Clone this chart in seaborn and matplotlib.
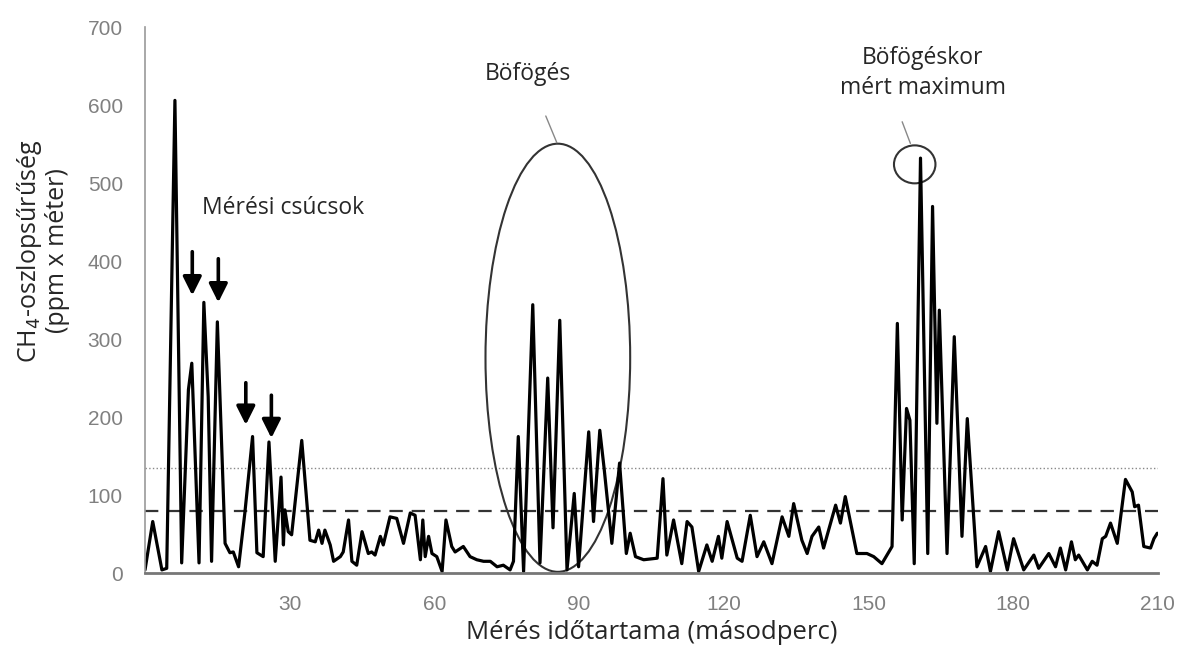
import matplotlib
matplotlib.use("Agg")
import matplotlib.pyplot as plt
from matplotlib.patches import Ellipse
import seaborn as sns

# ===============================
# Adatok (leolvasva az ábráról)
# ===============================
ido = [0, 1.6, 3.5, 4.5, 6.2, 7.6, 9.0, 9.7, 11.2, 12.2, 13.1, 13.8, 15.0, 16.6, 17.6,
       18.3, 19.4, 20.7, 22.3, 23.2, 24.5, 25.7, 27.0, 28.2, 28.7, 29.0, 29.7, 30.4,
       32.5, 34.2, 35.3, 36.0, 36.7, 37.3, 38.4, 39.1, 40.5, 41.1, 42.2, 42.9, 43.9,
       45.0, 46.3, 47.0, 47.7, 48.8, 49.4, 50.8, 52.2, 53.6, 55.0, 56.0, 57.1, 57.6,
       58.1, 58.8, 59.5, 60.5, 61.6, 62.4, 63.6, 64.3, 66.0, 67.4, 68.8, 70.2, 71.6,
       73.0, 74.3, 75.7, 76.4, 77.4, 78.5, 80.4, 81.9, 83.5, 84.6, 86.0, 87.5, 89.0,
       89.9, 92.0, 93.0, 94.3, 95.2, 96.8, 98.4, 99.8, 100.6, 101.7, 103.4, 106.2,
       107.4, 108.2, 109.6, 111.3, 112.4, 113.4, 114.8, 116.5, 117.6, 118.9, 119.6,
       120.7, 122.8, 123.8, 125.5, 126.9, 128.3, 130.0, 132.1, 133.5, 134.5, 136.2,
       137.3, 138.3, 139.7, 140.7, 143.2, 144.2, 145.2, 147.6, 149.7, 151.1, 152.8,
       154.9, 156.0, 157.0, 157.9, 158.6, 159.5, 160.8, 162.3, 163.3, 164.2, 164.7,
       166.3, 167.8, 169.4, 170.5, 172.5, 174.3, 175.3, 177.0, 178.8, 180.1, 182.2,
       184.3, 185.3, 187.4, 188.8, 189.8, 190.9, 192.1, 192.9, 193.6, 195.4, 196.4,
       197.4, 198.5, 199.2, 200.2, 201.6, 203.3, 204.7, 205.2, 206.0, 207.1, 208.5,
       209.2, 209.9]
ch4 = [4, 66, 4, 6, 606, 13, 235, 269, 13, 347, 226, 15, 322, 38, 26,
       27, 8, 77, 175, 26, 21, 168, 15, 123, 36, 81, 53, 49,
       170, 42, 40, 55, 38, 55, 36, 15, 21, 27, 68, 15, 10,
       53, 25, 27, 23, 47, 36, 72, 70, 38, 77, 74, 17, 68,
       21, 47, 25, 21, 2, 68, 34, 27, 34, 21, 17, 15, 15,
       8, 10, 4, 15, 175, 2, 344, 13, 250, 58, 324, 4, 102,
       8, 181, 66, 183, 134, 38, 141, 25, 51, 21, 17, 19,
       121, 23, 68, 12, 66, 59, 2, 36, 15, 47, 19,
       66, 19, 15, 74, 21, 40, 12, 72, 47, 89, 42,
       25, 47, 59, 32, 87, 64, 98, 25, 25, 21, 12,
       34, 320, 68, 211, 196, 12, 532, 25, 470, 192, 337,
       25, 303, 47, 198, 8, 34, 2, 53, 4, 44, 4,
       23, 6, 25, 8, 32, 4, 40, 17, 23, 4, 15,
       10, 44, 47, 64, 38, 120, 104, 85, 87, 34, 32,
       44, 51]

kuszob_pontozott = 135
kuszob_szaggatott = 80

# nyilak: (x, csúcs y, farok y)
nyilak = [(9.8, 356, 412), (15.2, 347, 403), (20.9, 190, 244), (26.2, 173, 228)]

x_ticks = [30, 60, 90, 120, 150, 180, 210]
y_ticks = [0, 100, 200, 300, 400, 500, 600, 700]

# ===============================
# Stílus
# ===============================
sns.set_theme(style="white")
plt.rcParams['font.family'] = ['Open Sans', 'DejaVu Sans']

fig = plt.figure(figsize=(11.79, 6.53), dpi=100)
ax = fig.add_axes([0.123, 0.1225, 0.859, 0.836])

sns.lineplot(x=ido, y=ch4, ax=ax, color='black', linewidth=2.3)
ax.lines[0].set_solid_joinstyle('round')

ax.axhline(kuszob_pontozott, color='#888888', linestyle=':', linewidth=1.0, zorder=1)
ax.axhline(kuszob_szaggatott, color='#333333', linestyle=(0, (6, 4)), linewidth=1.6, zorder=1)

ax.set_xlim(0, 210)
ax.set_ylim(0, 700)
ax.set_xticks(x_ticks)
ax.set_yticks(y_ticks)
for lab in ax.get_xticklabels() + ax.get_yticklabels():
    lab.set_family('Liberation Sans')
    lab.set_fontsize(15)
    lab.set_color('#808080')
ax.tick_params(axis='x', pad=16, length=0)
ax.tick_params(axis='y', pad=16, length=0)

for side in ['top', 'right']:
    ax.spines[side].set_visible(False)
ax.spines['left'].set_color('#999999')
ax.spines['bottom'].set_color('#777777')
ax.spines['left'].set_linewidth(1.2)
ax.spines['bottom'].set_linewidth(2.0)

ax.set_xlabel('Mérés időtartama (másodperc)', fontsize=18.5, labelpad=4)
ax.set_ylabel('CH$_4$-oszlopsűrűség\n(ppm x méter)', fontsize=18, labelpad=8,
              linespacing=1.05)
ax.yaxis.set_label_coords(-0.074, 0.59)

# feliratok
ax.text(11.8, 468, 'Mérési csúcsok', fontsize=16.5, ha='left', va='center')
for x, y_tip, y_tail in nyilak:
    ax.annotate('', xy=(x, y_tip), xytext=(x, y_tail),
                arrowprops=dict(arrowstyle='-|>,head_width=0.4,head_length=0.8',
                                color='black', lw=2.6, mutation_scale=14,
                                shrinkA=0, shrinkB=0))

ax.add_patch(Ellipse((85.6, 276), 30, 549, fill=False, edgecolor='#333333', linewidth=1.5))
ax.plot([83.1, 85.4], [586, 551.7], color='#888888', linewidth=1.0)
ax.text(79.3, 640, 'Böfögés', fontsize=16.5, ha='center', va='center')

ax.add_patch(Ellipse((159.6, 524), 8.6, 48.7, fill=False, edgecolor='#333333', linewidth=1.5))
ax.plot([157.0, 158.7], [578.6, 550.9], color='#888888', linewidth=1.0)
ax.text(161.3, 641, 'Böfögéskor\nmért maximum', fontsize=16.5, ha='center', va='center',
        linespacing=1.3)

fig.savefig('out.png', dpi=100)
